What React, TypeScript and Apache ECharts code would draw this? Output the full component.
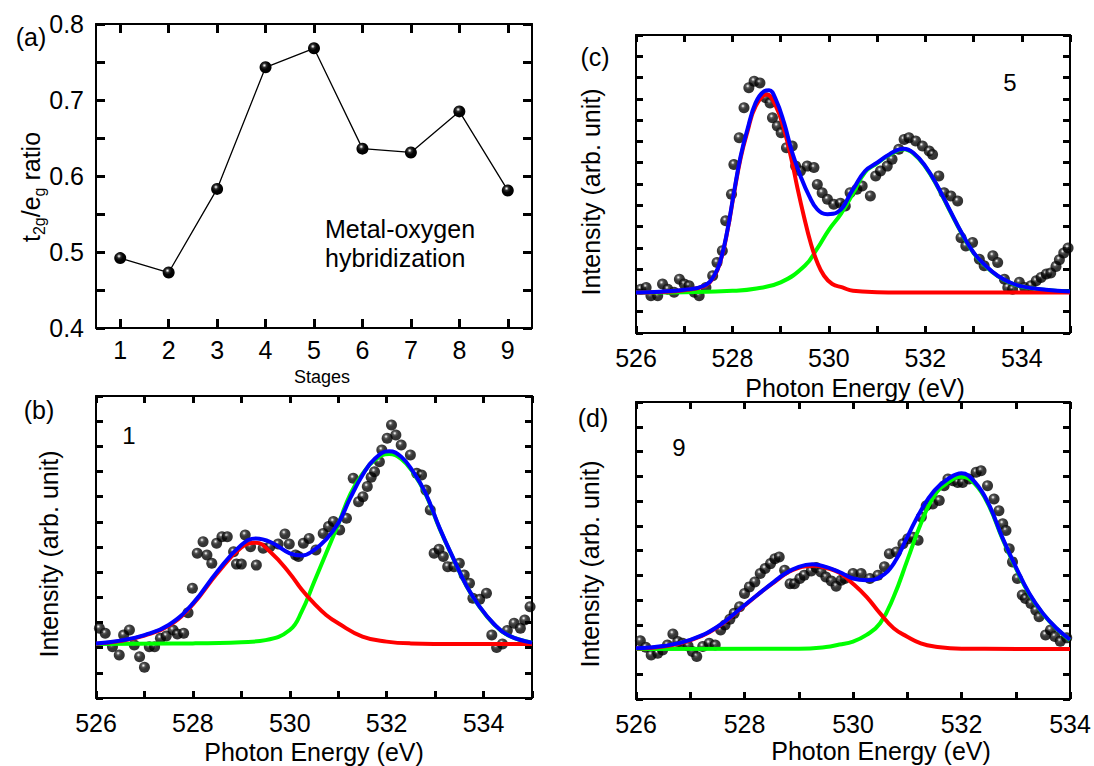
import React, { useEffect, useRef } from "react";
import * as echarts from "echarts";

// ---------- Panel (a) ----------
const stages = ["1", "2", "3", "4", "5", "6", "7", "8", "9"];
const ratios = [0.492, 0.473, 0.583, 0.743, 0.768, 0.636, 0.631, 0.685, 0.581];
const ratioTicks = { min: 0.4, max: 0.8, interval: 0.05 };

// ---------- Panel (b) : stage 1 ----------
const bDots: [number, number][] = [
  [526.07, 2.77], [526.19, 2.57], [526.34, 2.04], [526.48, 1.71], [526.57, 2.5], [526.69, 2.7],
  [526.79, 2.11], [526.9, 1.64], [527.0, 1.22], [527.1, 2.04], [527.21, 2.04], [527.33, 2.37],
  [527.45, 2.46], [527.59, 2.7], [527.68, 2.54], [527.81, 2.57], [527.9, 3.39], [527.99, 4.36],
  [528.09, 5.75], [528.21, 6.21], [528.29, 5.68], [528.39, 5.35], [528.49, 6.15], [528.6, 6.41],
  [528.71, 6.41], [528.84, 5.81], [528.9, 5.32], [529.0, 5.32], [529.08, 6.48], [529.19, 6.01],
  [529.31, 5.28], [529.45, 5.95], [529.59, 6.01], [529.76, 6.12], [529.9, 6.52], [529.99, 6.12],
  [530.12, 5.68], [530.18, 5.62], [530.28, 6.15], [530.4, 6.34], [530.54, 5.88], [530.69, 6.54],
  [530.8, 6.81], [530.9, 7.01], [531.03, 6.68], [531.17, 7.14], [531.31, 8.73], [531.42, 7.8],
  [531.51, 8.0], [531.6, 8.4], [531.68, 8.77], [531.75, 8.99], [531.85, 9.39], [531.9, 9.85],
  [532.01, 10.32], [532.1, 10.85], [532.19, 10.45], [532.3, 10.05], [532.49, 9.66], [532.62, 8.93],
  [532.72, 8.86], [532.81, 8.26], [532.9, 7.47], [532.98, 5.75], [533.08, 5.91], [533.17, 5.62],
  [533.26, 5.22], [533.39, 5.22], [533.5, 5.35], [533.6, 4.89], [533.71, 4.56], [533.78, 3.96],
  [533.92, 3.92], [534.06, 4.16], [534.17, 2.5], [534.27, 2.01], [534.39, 2.15], [534.49, 2.68],
  [534.63, 2.97], [534.76, 2.77], [534.85, 3.1], [534.96, 3.63],
];
const bBlue: [number, number][] = [
  [526.0, 2.17], [526.5, 2.28], [527.0, 2.5], [527.5, 2.9], [528.0, 3.76], [528.5, 5.02],
  [529.0, 6.08], [529.3, 6.34], [529.6, 6.2], [530.0, 5.75], [530.25, 5.66], [530.5, 5.88],
  [530.75, 6.3], [531.0, 6.94], [531.25, 7.95], [531.5, 8.85], [531.75, 9.5], [532.05, 9.8],
  [532.3, 9.59], [532.55, 8.98], [532.8, 8.15], [533.1, 6.72], [533.4, 5.45], [533.65, 4.45],
  [533.9, 3.68], [534.2, 2.97], [534.5, 2.5], [535.0, 2.2],
];
const bRed: [number, number][] = [
  [526.0, 2.16], [526.5, 2.26], [527.0, 2.48], [527.5, 2.87], [528.0, 3.72], [528.5, 4.95],
  [529.0, 5.98], [529.3, 6.17], [529.6, 5.8], [530.0, 4.95], [530.25, 4.3], [530.5, 3.76],
  [530.75, 3.3], [531.0, 2.97], [531.5, 2.44], [532.0, 2.24], [532.5, 2.17], [533.5, 2.15],
  [535.0, 2.15],
];
const bGreen: [number, number][] = [
  [526.0, 2.15], [528.0, 2.17], [529.0, 2.22], [529.5, 2.3], [530.0, 2.7], [530.25, 3.45],
  [530.5, 4.6], [530.75, 5.75], [531.0, 6.9], [531.25, 8.1], [531.5, 8.9], [531.75, 9.45],
  [532.05, 9.7], [532.3, 9.5], [532.55, 8.95], [532.8, 8.12], [533.1, 6.7], [533.4, 5.44],
  [533.65, 4.44], [533.9, 3.67], [534.2, 2.96], [534.5, 2.5], [535.0, 2.2],
];

// ---------- Panel (c) : stage 5 ----------
const cDots: [number, number][] = [
  [526.1, 2.06], [526.21, 2.14], [526.31, 1.75], [526.45, 1.75], [526.55, 2.3], [526.66, 2.06],
  [526.79, 1.91], [526.9, 2.53], [527.0, 2.3], [527.1, 2.22], [527.21, 1.91], [527.31, 1.75],
  [527.45, 2.14], [527.59, 2.69], [527.68, 3.31], [527.79, 3.86], [527.86, 5.27], [527.98, 6.52],
  [528.03, 7.92], [528.14, 9.17], [528.24, 10.58], [528.34, 11.52], [528.45, 11.83], [528.57, 11.75],
  [528.69, 11.05], [528.78, 10.81], [528.83, 10.11], [528.93, 9.72], [529.01, 9.41], [529.12, 8.7],
  [529.24, 8.78], [529.31, 7.84], [529.41, 7.61], [529.55, 7.84], [529.69, 7.77], [529.76, 6.98],
  [529.86, 6.59], [529.97, 6.28], [530.1, 6.05], [530.24, 6.1], [530.34, 5.97], [530.44, 6.59],
  [530.58, 6.75], [530.69, 6.91], [530.86, 6.44], [530.97, 7.38], [531.07, 7.61], [531.21, 7.84],
  [531.31, 8.16], [531.45, 8.63], [531.56, 9.09], [531.66, 9.17], [531.8, 9.02], [531.94, 8.78],
  [532.08, 8.55], [532.15, 8.39], [532.28, 7.38], [532.39, 6.59], [532.53, 6.44], [532.67, 6.2],
  [532.74, 4.48], [532.84, 4.09], [532.98, 4.25], [533.12, 3.47], [533.22, 3.16], [533.4, 3.63],
  [533.5, 3.31], [533.64, 2.53], [533.71, 2.14], [533.81, 2.06], [533.95, 2.38], [534.06, 2.14],
  [534.19, 2.22], [534.3, 2.45], [534.4, 2.61], [534.51, 2.77], [534.6, 2.82], [534.71, 3.13],
  [534.78, 3.44], [534.87, 3.76], [534.96, 3.99],
];
const cBlue: [number, number][] = [
  [526.0, 1.9], [526.5, 1.94], [527.0, 2.03], [527.41, 2.22], [527.62, 2.69], [527.76, 3.47],
  [527.9, 4.88], [528.03, 6.59], [528.17, 8.31], [528.31, 9.56], [528.48, 10.81], [528.66, 11.36],
  [528.76, 11.41], [528.9, 10.97], [529.07, 9.88], [529.24, 8.47], [529.41, 7.38], [529.59, 6.44],
  [529.76, 5.81], [529.97, 5.58], [530.17, 5.66], [530.5, 6.75], [530.75, 7.61], [531.0, 8.0],
  [531.25, 8.39], [531.55, 8.66], [531.75, 8.47], [532.0, 7.84], [532.25, 6.91], [532.5, 5.81],
  [532.75, 4.72], [533.0, 3.78], [533.25, 3.16], [533.5, 2.69], [533.75, 2.38], [534.0, 2.19],
  [534.5, 2.03], [535.0, 1.95],
];
const cRed: [number, number][] = [
  [526.0, 1.9], [526.5, 1.93], [527.0, 2.01], [527.41, 2.2], [527.62, 2.66], [527.76, 3.44],
  [527.9, 4.84], [528.03, 6.53], [528.17, 8.22], [528.31, 9.45], [528.48, 10.65], [528.71, 11.2],
  [528.9, 10.66], [529.07, 9.56], [529.24, 8.0], [529.34, 6.9], [529.48, 5.5], [529.62, 4.25],
  [529.76, 3.31], [529.9, 2.69], [530.07, 2.3], [530.28, 2.14], [530.5, 1.98], [531.0, 1.92],
  [532.0, 1.9], [535.0, 1.9],
];
const cGreen: [number, number][] = [
  [526.0, 1.9], [527.0, 1.92], [528.0, 1.98], [528.5, 2.09], [529.0, 2.38], [529.5, 3.16],
  [529.75, 3.94], [530.0, 4.85], [530.25, 5.6], [530.5, 6.55], [530.75, 7.55], [531.0, 7.97],
  [531.25, 8.36], [531.55, 8.63], [531.75, 8.44], [532.0, 7.81], [532.25, 6.88], [532.5, 5.78],
  [532.75, 4.7], [533.0, 3.76], [533.25, 3.14], [533.5, 2.67], [533.75, 2.37], [534.0, 2.18],
  [534.5, 2.02], [535.0, 1.94],
];

// ---------- Panel (d) : stage 9 ----------
const dDots: [number, number][] = [
  [526.08, 2.35], [526.18, 2.09], [526.28, 1.78], [526.4, 1.85], [526.49, 1.98], [526.58, 2.18],
  [526.68, 2.63], [526.77, 2.32], [526.86, 2.25], [526.96, 2.14], [527.04, 1.92], [527.12, 1.72],
  [527.23, 2.12], [527.35, 2.25], [527.46, 2.18], [527.56, 2.79], [527.64, 2.99], [527.73, 3.22],
  [527.81, 3.46], [527.91, 3.73], [528.0, 4.26], [528.09, 4.53], [528.19, 4.73], [528.29, 5.07],
  [528.38, 5.27], [528.48, 5.47], [528.56, 5.67], [528.64, 5.74], [528.74, 5.2], [528.84, 4.66],
  [528.92, 4.66], [529.02, 4.87], [529.1, 5.0], [529.23, 5.17], [529.32, 5.31], [529.41, 5.13],
  [529.5, 4.93], [529.6, 4.77], [529.69, 4.56], [529.78, 4.8], [529.85, 4.87], [530.0, 5.07],
  [530.15, 5.07], [530.31, 4.87], [530.46, 5.0], [530.58, 5.34], [530.67, 5.87], [530.8, 5.94],
  [530.92, 6.27], [531.01, 6.47], [531.1, 6.54], [531.2, 6.41], [531.26, 7.35], [531.35, 7.81],
  [531.47, 7.88], [531.59, 8.02], [531.68, 8.62], [531.75, 8.89], [531.84, 8.82], [531.93, 8.75],
  [532.02, 8.75], [532.14, 8.89], [532.27, 9.16], [532.36, 9.22], [532.48, 8.62], [532.6, 8.08],
  [532.69, 7.61], [532.76, 7.08], [532.82, 6.81], [532.88, 6.07], [532.94, 5.54], [533.03, 4.87],
  [533.12, 4.2], [533.18, 4.06], [533.28, 3.86], [533.37, 3.59], [533.43, 3.32], [533.55, 2.59],
  [533.64, 2.79], [533.72, 2.53], [533.82, 2.33], [533.94, 2.47],
];
const dBlue: [number, number][] = [
  [526.0, 2.05], [526.5, 2.14], [527.0, 2.39], [527.5, 2.92], [528.0, 3.79], [528.5, 4.66],
  [528.75, 5.07], [529.0, 5.34], [529.25, 5.44], [529.5, 5.34], [529.75, 5.13], [530.0, 4.87],
  [530.25, 4.8], [530.5, 4.93], [530.75, 5.47], [531.0, 6.54], [531.25, 7.61], [531.5, 8.42],
  [531.75, 8.89], [532.0, 9.12], [532.25, 8.75], [532.5, 7.88], [532.75, 6.54], [533.0, 5.34],
  [533.25, 4.26], [533.5, 3.46], [533.75, 2.86], [534.0, 2.4],
];
const dRed: [number, number][] = [
  [526.0, 2.04], [526.5, 2.12], [527.0, 2.37], [527.5, 2.9], [528.0, 3.77], [528.5, 4.64],
  [529.0, 5.3], [529.3, 5.38], [529.5, 5.3], [529.75, 5.1], [530.0, 4.66], [530.25, 4.13],
  [530.5, 3.46], [530.75, 2.86], [531.0, 2.52], [531.25, 2.25], [531.5, 2.12], [532.0, 2.03],
  [534.0, 2.02],
];
const dGreen: [number, number][] = [
  [526.0, 2.02], [529.0, 2.03], [529.5, 2.1], [529.75, 2.2], [530.0, 2.32], [530.25, 2.59],
  [530.5, 3.06], [530.75, 4.13], [531.0, 5.6], [531.25, 7.08], [531.5, 8.22], [531.75, 8.75],
  [532.0, 8.98], [532.25, 8.68], [532.5, 7.83], [532.75, 6.5], [533.0, 5.3], [533.25, 4.23],
  [533.5, 3.44], [533.75, 2.85], [534.0, 2.38],
];

const FONT = "'Liberation Sans', Arial, Helvetica, sans-serif";
const BLACK = "#000000";

const sphere = {
  type: "radial",
  x: 0.4,
  y: 0.34,
  r: 0.6,
  colorStops: [
    { offset: 0, color: "#ffffff" },
    { offset: 0.1, color: "#c0c0c0" },
    { offset: 0.28, color: "#303030" },
    { offset: 0.55, color: "#050505" },
    { offset: 1, color: "#000000" },
  ],
};

function axisLine() {
  return { show: true, onZero: false, lineStyle: { color: BLACK, width: 2 } };
}
function tick(len: number) {
  return { show: true, inside: true, length: len, lineStyle: { color: BLACK, width: 3 } };
}

function spectrumAxes(gi: number, xMax: number, yMax: number, labelMargin: number) {
  const x = [
    {
      type: "value", gridIndex: gi, min: 526, max: xMax, interval: 1, position: "bottom",
      axisLine: axisLine(), axisTick: tick(7), splitLine: { show: false },
      axisLabel: {
        show: true, margin: labelMargin, fontSize: 25, color: BLACK, fontFamily: FONT,
        formatter: (v: number) => (Math.round(v) % 2 === 0 ? String(Math.round(v)) : ""),
      },
    },
    {
      type: "value", gridIndex: gi, min: 526, max: xMax, interval: 1, position: "top",
      axisLine: axisLine(), axisTick: tick(7), splitLine: { show: false }, axisLabel: { show: false },
    },
  ];
  const y = [
    {
      type: "value", gridIndex: gi, min: 0, max: yMax, interval: 1, position: "left",
      axisLine: axisLine(), axisTick: tick(7), splitLine: { show: false }, axisLabel: { show: false },
    },
    {
      type: "value", gridIndex: gi, min: 0, max: yMax, interval: 1, position: "right",
      axisLine: axisLine(), axisTick: tick(7), splitLine: { show: false }, axisLabel: { show: false },
    },
  ];
  return { x, y };
}

function spectrumSeries(axisIdx: number, dots: [number, number][], green: [number, number][], red: [number, number][], blue: [number, number][]) {
  const common = { xAxisIndex: axisIdx, yAxisIndex: axisIdx };
  const line = (data: [number, number][], color: string) => ({
    ...common, type: "line", data, smooth: 0.45, showSymbol: false, symbol: "none",
    lineStyle: { color, width: 4 }, silent: true,
  });
  return [
    { ...common, type: "scatter", data: dots, symbol: "circle", symbolSize: 11, itemStyle: { color: sphere } },
    line(green, "#00ff00"),
    line(red, "#ff0000"),
    line(blue, "#0000ff"),
  ];
}

function txt(x: number, y: number, text: string, size = 25, align = "center") {
  return {
    type: "text", x, y, silent: true,
    style: {
      text, fill: BLACK, fontSize: size, fontFamily: FONT,
      align, textAlign: align, verticalAlign: "middle", textVerticalAlign: "middle",
    },
  };
}

function vtxt(x: number, y: number, text: string) {
  return {
    type: "text", x, y, rotation: Math.PI / 2, silent: true,
    style: {
      text, fill: BLACK, fontSize: 25, fontFamily: FONT,
      align: "center", textAlign: "center", verticalAlign: "middle", textVerticalAlign: "middle",
    },
  };
}

export default function App() {
  const ref = useRef<HTMLDivElement>(null);

  useEffect(() => {
    if (!ref.current) return;
    const chart = echarts.init(ref.current, undefined, { renderer: "svg" });

    const aX = [
      {
        type: "category", gridIndex: 0, data: stages, boundaryGap: true, position: "bottom",
        axisLine: axisLine(), axisTick: { ...tick(9), alignWithLabel: true, interval: 0 },
        axisLabel: { show: true, margin: 9, fontSize: 25, color: BLACK, fontFamily: FONT },
      },
      {
        type: "category", gridIndex: 0, data: stages, boundaryGap: true, position: "top",
        axisLine: axisLine(), axisTick: { ...tick(9), alignWithLabel: true, interval: 0 }, axisLabel: { show: false },
      },
    ];
    const aY = [
      {
        type: "value", gridIndex: 0, ...ratioTicks, position: "left", axisLine: axisLine(), axisTick: tick(9),
        splitLine: { show: false },
        axisLabel: {
          show: true, margin: 12, fontSize: 25, color: BLACK, fontFamily: FONT,
          formatter: (v: number) => (Math.abs(v * 10 - Math.round(v * 10)) < 1e-6 ? v.toFixed(1) : ""),
        },
      },
      {
        type: "value", gridIndex: 0, ...ratioTicks, position: "right", axisLine: axisLine(), axisTick: tick(9),
        splitLine: { show: false }, axisLabel: { show: false },
      },
    ];

    const b = spectrumAxes(1, 535, 12, 12);
    const c = spectrumAxes(2, 535, 14, 12);
    const d = spectrumAxes(3, 534, 12, 12);

    const option = {
      animation: false,
      backgroundColor: "#ffffff",
      grid: [
        { left: 96, top: 24, width: 436, height: 304 },
        { left: 96, top: 396, width: 436, height: 302 },
        { left: 636, top: 35, width: 434, height: 298 },
        { left: 636, top: 402, width: 434, height: 297 },
      ],
      xAxis: [...aX, ...b.x, ...c.x, ...d.x],
      yAxis: [...aY, ...b.y, ...c.y, ...d.y],
      series: [
        {
          type: "line", xAxisIndex: 0, yAxisIndex: 0, data: ratios, symbol: "circle", symbolSize: 12,
          showSymbol: true, itemStyle: { color: sphere }, lineStyle: { color: BLACK, width: 1.3 },
        },
        ...spectrumSeries(2, bDots, bGreen, bRed, bBlue),
        ...spectrumSeries(4, cDots, cGreen, cRed, cBlue),
        ...spectrumSeries(6, dDots, dGreen, dRed, dBlue),
      ],
      graphic: [
        txt(31, 37, "(a)"),
        txt(39, 410, "(b)"),
        txt(595, 57, "(c)"),
        txt(593, 418, "(d)"),
        txt(129, 435, "1", 24),
        txt(1010, 82, "5", 24),
        txt(679, 447, "9", 24),
        txt(325, 229, "Metal-oxygen", 25, "left"),
        txt(325, 258, "hybridization", 25, "left"),
        txt(322, 377, "Stages", 18),
        txt(314, 752, "Photon Energy (eV)"),
        txt(855, 388, "Photon Energy (eV)"),
        txt(881, 751, "Photon Energy (eV)"),
        vtxt(49, 554, "Intensity (arb. unit)"),
        vtxt(591, 192, "Intensity (arb. unit)"),
        vtxt(590, 564, "Intensity (arb. unit)"),
        {
          type: "text", x: 31, y: 187, rotation: Math.PI / 2, silent: true,
          style: {
            text: "{m|t}{s|2g}{m|/e}{s|g}{m| ratio}",
            fill: BLACK, align: "center", textAlign: "center", verticalAlign: "middle", textVerticalAlign: "middle",
            rich: {
              m: { fontSize: 25, fontFamily: FONT, fill: BLACK },
              s: { fontSize: 16, fontFamily: FONT, fill: BLACK, padding: [16, 0, 0, 0] },
            },
          },
        },
      ],
    };

    chart.setOption(option as any);
    return () => chart.dispose();
  }, []);

  return (
    <div
      ref={ref}
      style={{ position: "fixed", left: 0, top: 0, width: 1094, height: 766, background: "#fff" }}
    />
  );
}
